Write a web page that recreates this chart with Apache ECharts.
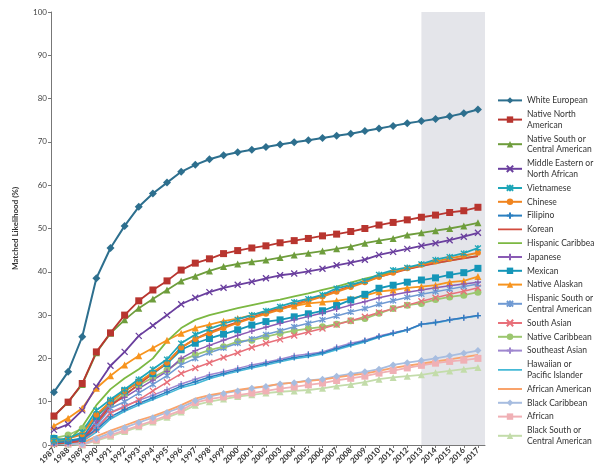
<!DOCTYPE html>
<html>
<head>
<meta charset="utf-8">
<script src="https://cdn.jsdelivr.net/npm/echarts@6/dist/echarts.min.js"></script>
<style>html,body{margin:0;padding:0;background:#fff}#c{width:595px;height:470px}</style>
</head>
<body>
<div id="c"></div>
<script>
const years = [1987,1988,1989,1990,1991,1992,1993,1994,1995,1996,1997,1998,1999,2000,2001,2002,2003,2004,2005,2006,2007,2008,2009,2010,2011,2012,2013,2014,2015,2016,2017];
const yTicks = [0,10,20,30,40,50,60,70,80,90,100];

const whiteEuropean = [12.2,16.9,25.0,38.5,45.5,50.6,55.0,58.1,60.6,63.1,64.7,66.0,66.9,67.6,68.2,68.8,69.4,69.9,70.4,70.9,71.4,71.9,72.5,73.1,73.7,74.3,74.8,75.3,75.9,76.6,77.5];
const nativeNorthAmerican = [6.7,9.9,14.2,21.5,25.9,30.0,33.3,35.8,37.9,40.4,42.0,43.0,44.2,44.9,45.5,46.0,46.7,47.2,47.7,48.3,48.7,49.3,50.0,50.8,51.4,52.0,52.6,53.1,53.7,54.1,54.9];
const nativeSouthCentralAmerican = [6.7,9.9,14.0,21.3,25.8,28.9,31.6,33.7,35.8,37.9,39.0,40.2,41.2,41.8,42.3,42.7,43.3,43.9,44.3,44.8,45.3,45.8,46.6,47.2,47.7,48.5,49.0,49.5,50.0,50.6,51.3];
const middleEastern = [3.5,4.8,8.0,13.5,18.3,21.5,25.2,27.6,30.0,32.5,34.0,35.3,36.3,37.0,37.7,38.5,39.2,39.6,40.1,40.7,41.5,42.1,42.8,43.9,44.6,45.3,46.0,46.6,47.3,48.1,49.0];
const vietnamese = [1.0,1.5,3.0,8.0,10.5,12.8,15.2,17.5,19.8,23.5,25.5,26.8,28.0,29.0,30.0,31.0,32.0,33.0,33.8,34.7,36.2,37.0,37.9,39.4,40.4,41.0,41.8,42.8,43.5,44.3,45.5];
const chinese = [1.0,1.5,2.5,7.0,10.0,12.5,14.5,16.8,19.0,22.5,24.5,25.8,27.0,28.2,29.3,30.3,31.3,32.3,33.3,34.3,35.4,36.5,37.6,38.8,39.8,40.8,41.6,42.4,43.1,43.7,44.4];
const filipino = [0.5,0.8,1.5,3.5,6.5,8.2,9.6,10.9,12.2,13.6,14.6,15.7,16.5,17.3,18.1,18.8,19.5,20.2,20.7,21.3,22.3,23.2,24.0,25.0,25.8,26.6,27.9,28.3,28.9,29.4,29.9];
const korean = [0.3,0.5,1.0,5.0,9.0,11.5,14.0,16.5,19.0,22.5,24.5,26.0,27.3,28.4,29.5,30.5,31.5,32.5,33.5,34.5,35.6,36.7,37.8,38.8,39.7,40.6,41.3,42.0,42.6,43.1,43.6];
const hispanicCaribbean = [0.5,1.0,4.2,9.2,12.9,15.4,17.5,20.0,24.0,27.0,28.9,30.0,30.8,31.6,32.3,33.0,33.6,34.3,35.0,35.8,36.6,37.5,38.4,39.2,40.0,40.7,41.4,42.0,42.6,43.2,43.6];
const japanese = [0.5,0.7,1.2,5.5,9.5,11.0,13.0,15.0,17.0,20.0,21.8,23.0,24.2,25.3,26.3,27.2,28.1,28.9,29.7,30.5,31.4,32.3,33.1,34.0,34.7,35.3,35.8,36.3,36.8,37.2,37.6];
const mexican = [1.5,1.0,1.5,6.5,10.0,12.5,14.5,16.5,18.8,22.0,23.5,24.6,25.6,26.6,27.7,28.5,28.9,29.6,30.3,31.0,32.2,33.5,34.8,36.2,36.9,37.6,38.1,38.6,39.3,39.8,40.8];
const nativeAlaskan = [4.4,6.2,8.5,13.1,16.0,18.5,20.6,22.4,24.2,25.8,27.0,27.8,28.6,29.2,30.0,30.8,31.6,32.1,32.7,33.0,33.3,33.8,34.5,35.4,35.8,36.3,36.6,36.9,37.6,37.9,38.9];
const hispanicSouthCentral = [0.5,0.8,1.5,4.5,8.5,10.0,12.0,14.0,16.0,18.5,20.0,21.3,22.4,23.5,24.5,25.5,26.4,27.3,28.1,28.9,29.8,30.7,31.5,32.5,33.3,34.1,34.8,35.4,36.0,36.6,37.2];
const southAsian = [0.3,0.5,1.0,3.5,7.4,8.8,10.4,12.5,14.5,16.5,17.8,19.0,20.2,21.3,22.5,23.5,24.4,25.3,26.1,26.9,27.8,28.7,29.6,30.6,31.5,32.3,33.2,34.0,34.8,35.5,36.3];
const nativeCaribbean = [1.6,2.3,3.8,6.5,9.5,11.8,13.8,15.6,17.3,19.5,20.8,21.9,22.7,23.9,24.2,25.0,25.8,26.4,26.9,27.3,27.9,28.7,29.2,30.4,31.5,32.3,32.7,33.6,34.2,34.6,35.3];
const southeastAsian = [0.3,0.5,1.0,4.0,7.5,9.0,10.3,11.5,12.8,14.1,15.2,16.2,16.9,17.7,18.5,19.1,19.8,20.6,21.0,21.5,22.6,23.5,24.2,25.2,25.9,26.6,27.9,28.3,28.9,29.4,29.9];
const hawaiianPacific = [0.2,0.4,0.8,3.0,6.0,7.8,9.2,10.5,11.8,13.2,14.1,15.3,16.2,17.0,17.8,18.5,19.2,19.9,20.4,21.0,22.0,22.9,23.8,24.9,25.7,26.5,27.8,28.2,28.8,29.3,29.8];
const africanAmerican = [1.0,0.8,0.5,2.0,3.3,4.5,5.7,6.7,7.9,9.2,10.7,11.5,12.1,12.7,13.2,13.6,14.1,14.4,14.8,15.1,15.6,16.1,16.5,17.1,17.8,18.3,18.8,19.3,19.8,20.3,20.8];
const blackCaribbean = [0.5,0.3,0.2,1.5,2.8,4.0,5.2,6.3,7.5,8.7,10.2,11.2,11.9,12.5,13.1,13.5,14.1,14.4,14.9,15.2,15.9,16.4,16.9,17.5,18.5,19.0,19.5,20.0,20.6,21.2,21.8];
const african = [0.5,0.3,0.1,1.2,2.3,3.4,4.5,5.6,6.8,8.0,9.8,10.6,11.1,11.5,12.0,12.5,13.0,13.4,13.9,14.3,14.9,15.4,15.9,16.6,17.2,17.8,18.4,18.9,19.3,19.6,20.0];
const blackSouthCentral = [0.3,0.2,0.0,1.0,2.0,3.1,4.2,5.3,6.4,7.6,9.2,10.0,10.6,11.2,11.6,12.0,12.3,12.5,12.7,13.1,13.6,14.0,14.5,15.2,15.6,15.9,16.2,16.7,17.1,17.5,17.9];

const shadeFrom = 2013;
const shadeTo = 2017.5;

const X = 'path://M0,0L10,10M10,0L0,10';
const STAR = 'path://M0,0L10,10M10,0L0,10M5,-1L5,11';
const PLUS = 'path://M5,0L5,10M0,5L10,5';
const LINE_ICON = 'path://M0,0L0.02,0L0.02,8L0,8Z M0,3.1L24,3.1L24,4.9L0,4.9Z';

const defs = [
  ['White European', whiteEuropean, '#2d6f8e', 'diamond', 8, 2],
  ['Native North\nAmerican', nativeNorthAmerican, '#b8352f', 'rect', 7, 1.8],
  ['Native South or\nCentral American', nativeSouthCentralAmerican, '#6e9d3c', 'triangle', 7, 1.8],
  ['Middle Eastern or\nNorth African', middleEastern, '#6a3f9e', X, 6, 1.8],
  ['Vietnamese', vietnamese, '#1ea6b8', STAR, 6, 1.8],
  ['Chinese', chinese, '#f0841f', 'circle', 6, 2],
  ['Filipino', filipino, '#2a7fc0', PLUS, 6, 1.5],
  ['Korean', korean, '#d24b3e', 'none', 0, 1.8],
  ['Hispanic Caribbean', hispanicCaribbean, '#7cb842', 'none', 0, 1.8],
  ['Japanese', japanese, '#8a5bb5', PLUS, 6, 1.5],
  ['Mexican', mexican, '#1596b8', 'rect', 7, 1.8],
  ['Native Alaskan', nativeAlaskan, '#f7941e', 'triangle', 7, 1.8],
  ['Hispanic South or\nCentral American', hispanicSouthCentral, '#6f9ad3', STAR, 6, 1.5],
  ['South Asian', southAsian, '#e8707a', X, 6, 1.5],
  ['Native Caribbean', nativeCaribbean, '#9cc76f', 'circle', 7, 1.8],
  ['Southeast Asian', southeastAsian, '#9f87cf', PLUS, 6, 1.5],
  ['Hawaiian or\nPacific Islander', hawaiianPacific, '#45b9d6', 'none', 0, 1.5],
  ['African American', africanAmerican, '#f9a36b', 'none', 0, 1.8],
  ['Black Caribbean', blackCaribbean, '#a7bde0', 'diamond', 7, 1.8],
  ['African', african, '#f0b0b5', 'rect', 7, 1.8],
  ['Black South or\nCentral American', blackSouthCentral, '#c3dcaa', 'triangle', 7, 1.8]
];

const series = [{
  type: 'line', name: '_shade', data: [], z: 1, silent: true,
  markArea: { silent: true, itemStyle: { color: '#e4e5ea' },
    data: [[{ xAxis: shadeFrom, yAxis: 0 }, { xAxis: shadeTo, yAxis: 100 }]] }
}];
defs.slice().reverse().forEach(d => {
  const [name, vals, color, sym, size, lw] = d;
  series.push({
    type: 'line', name: name,
    data: years.map((y, i) => [y, vals[i]]),
    symbol: sym, symbolSize: size, showSymbol: sym !== 'none',
    lineStyle: { color: color, width: lw },
    itemStyle: { color: color, borderColor: color, borderWidth: sym.startsWith('path') ? 1.3 : 0 },
    emphasis: { disabled: true },
    animation: false, z: 2
  });
});

const legendData = defs.map(d => d[3] === 'none'
  ? { name: d[0], icon: LINE_ICON, itemStyle: { color: d[2], borderWidth: 0 } }
  : { name: d[0] });

const chart = echarts.init(document.getElementById('c'), null, { renderer: 'canvas' });
chart.setOption({
  animation: false,
  textStyle: { fontFamily: 'Lato, "Open Sans", sans-serif' },
  grid: { left: 51, right: 110, top: 12, bottom: 25, containLabel: false },
  legend: {
    data: legendData,
    orient: 'vertical', left: 492, top: 90,
    itemWidth: 24, itemHeight: 8, itemGap: 3,
    textStyle: { fontSize: 8.5, color: '#333', lineHeight: 10.8, fontFamily: 'Lato, sans-serif' },
    selectedMode: false
  },
  xAxis: {
    type: 'value', min: 1986.79, max: shadeTo,
    axisLine: { lineStyle: { color: '#777', width: 1 } },
    axisTick: { customValues: years, length: 3, lineStyle: { color: '#777' } },
    axisLabel: { customValues: years, rotate: 45, fontSize: 8, fontWeight: 'bold', color: '#333', margin: 4,
      formatter: v => String(v) },
    splitLine: { show: false }
  },
  yAxis: {
    type: 'value', min: 0, max: 100, interval: 10,
    name: 'Matched Likelihood (%)', nameLocation: 'middle', nameGap: 32,
    nameTextStyle: { fontSize: 8, fontWeight: 'bold', color: '#333' },
    axisLine: { show: true, lineStyle: { color: '#777', width: 1 } },
    axisTick: { show: true, length: 3, lineStyle: { color: '#777' } },
    axisLabel: { fontSize: 8, color: '#444', margin: 4, customValues: yTicks },
    splitLine: { show: false }
  },
  series: series
});
</script>
</body>
</html>
